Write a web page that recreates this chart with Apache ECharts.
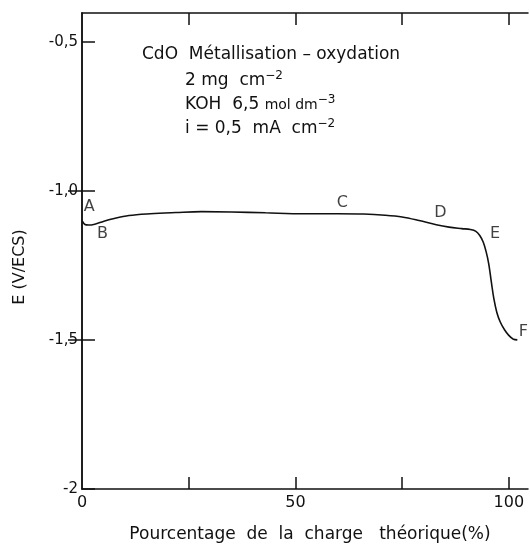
<!DOCTYPE html>
<html>
<head>
<meta charset="utf-8">
<script src="https://cdn.jsdelivr.net/npm/echarts@6/dist/echarts.min.js"></script>
<style>
  html, body { margin: 0; padding: 0; background: #fff; }
  #chart { width: 530px; height: 548px; }
</style>
</head>
<body>
<div id="chart"></div>
<script>
  // courbe de charge
  var charge = [0, 0.7, 1.5, 3, 5, 7, 11, 16, 22, 28, 35, 43, 52, 60, 66, 71, 75, 79, 83, 86, 89, 91, 92.3, 93.2, 94, 94.7, 95.3, 95.9, 96.5, 97.2, 98, 99, 100, 101, 102];
  var potentiel = [-1.10, -1.113, -1.115, -1.112, -1.103, -1.095, -1.083, -1.077, -1.073, -1.070, -1.071, -1.074, -1.077, -1.077, -1.078, -1.082, -1.088, -1.100, -1.114, -1.122, -1.127, -1.130, -1.136, -1.150, -1.172, -1.205, -1.245, -1.305, -1.362, -1.408, -1.440, -1.466, -1.485, -1.497, -1.50];

  var xLabels = [0, 50, 100];
  var xTicks = [25, 50, 75, 100];
  var yLabels = [-2, -1.5, -1, -0.5];
  var yRightTicks = [-1.5, -1];

  // points repères A..F
  var pointNames = ['A', 'B', 'C', 'D', 'E', 'F'];
  var pointX = [1.7, 4.8, 61, 84, 96.8, 103.4];
  var pointY = [-1.055, -1.145, -1.04, -1.075, -1.145, -1.473];

  var noteLines = [
    'CdO  Métallisation – oxydation',
    '2 mg  cm{sup|−2}',
    'KOH  6,5 {s|mol dm}{sup|−3}',
    'i = 0,5  mA  cm{sup|−2}'
  ];

  var font = 'DejaVu Sans';
  var black = '#111';

  function fmt(v) {
    if (v === -2) return '-2';
    return v.toFixed(1).replace('.', ',');
  }

  var chart = echarts.init(document.getElementById('chart'));

  var labelSeries = pointNames.map(function (n, i) { return [pointX[i], pointY[i], n]; });

  var graphics = noteLines.map(function (t, i) {
    return {
      type: 'text',
      left: i === 0 ? 142 : 185,
      top: 46 + i * 24,
      style: {
        text: t,
        font: '17px ' + font,
        fill: black,
        rich: {
          sup: { fontSize: 12, fontFamily: font, fill: black, padding: [0, 0, 10, 0] },
          s: { fontSize: 14, fontFamily: font, fill: black }
        }
      }
    };
  });
  graphics.push({
    type: 'text',
    x: 20, y: 267,
    rotation: Math.PI / 2,
    style: {
      text: 'E (V/ECS)', font: '16px ' + font, fill: black,
      align: 'center', verticalAlign: 'middle'
    }
  });

  var option = {
    backgroundColor: '#fff',
    animation: false,
    grid: { left: 82, right: 2, top: 13, bottom: 50 },
    xAxis: [{
      type: 'value', min: 0, max: 104.5, position: 'bottom',
      name: 'Pourcentage  de  la  charge   théorique(%)',
      nameLocation: 'middle', nameGap: 37,
      nameTextStyle: { fontFamily: font, fontSize: 17, color: black, padding: [0, 0, 0, 10] },
      axisLine: { lineStyle: { color: black, width: 1.5 } },
      axisTick: { inside: true, length: 12, customValues: xTicks, lineStyle: { color: black, width: 1.5 } },
      axisLabel: { customValues: xLabels, fontFamily: font, fontSize: 16, color: black, margin: 6 },
      splitLine: { show: false }
    }, {
      type: 'value', min: 0, max: 104.5, position: 'top',
      axisLine: { lineStyle: { color: black, width: 1.5 } },
      axisTick: { inside: true, length: 12, customValues: xTicks, lineStyle: { color: black, width: 1.5 } },
      axisLabel: { show: false },
      splitLine: { show: false }
    }],
    yAxis: [{
      type: 'value', min: -2, max: -0.404, position: 'left',
      axisLine: { show: true, lineStyle: { color: black, width: 1.5 } },
      axisTick: { show: true, inside: true, length: 13, customValues: yLabels, lineStyle: { color: black, width: 1.5 } },
      axisLabel: { customValues: yLabels, formatter: fmt, fontFamily: font, fontSize: 15, color: black, margin: 4 },
      splitLine: { show: false }
    }, {
      type: 'value', min: -2, max: -0.404, position: 'right',
      axisLine: { show: true, lineStyle: { color: black, width: 1.5 } },
      axisTick: { show: true, inside: true, length: 14, customValues: yRightTicks, lineStyle: { color: black, width: 1.5 } },
      axisLabel: { show: false },
      splitLine: { show: false }
    }],
    graphic: graphics,
    series: [{
      type: 'line',
      data: charge.map(function (x, i) { return [x, potentiel[i]]; }),
      smooth: 0.35,
      showSymbol: false,
      lineStyle: { color: black, width: 1.6 }
    }, {
      type: 'scatter',
      data: labelSeries,
      symbolSize: 0,
      label: {
        show: true, position: 'inside',
        formatter: function (p) { return p.data[2]; },
        fontFamily: font, fontSize: 16, color: black, textBorderWidth: 0
      }
    }]
  };

  chart.setOption(option);
</script>
</body>
</html>
